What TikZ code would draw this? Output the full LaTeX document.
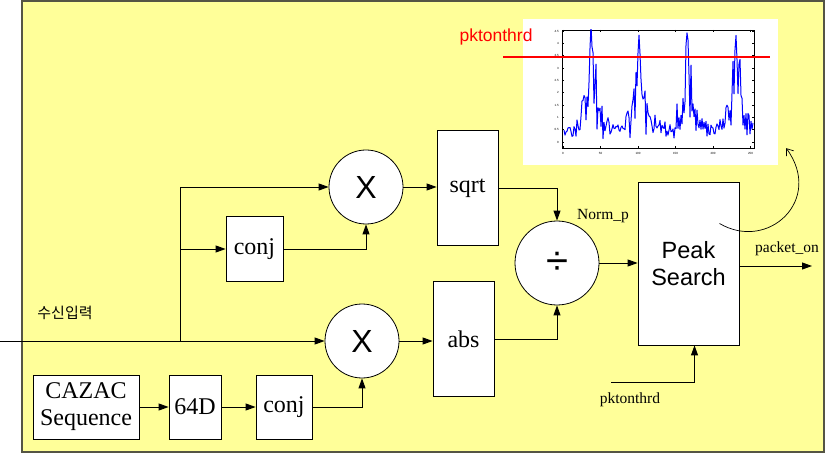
\documentclass[tikz,border=0pt]{standalone}
\usepackage{fontspec}
\setmainfont{Liberation Serif}
\newfontfamily\sansf{Liberation Sans}
\newfontfamily\krf{Noto Sans CJK KR}
\usetikzlibrary{arrows.meta,calc}
\definecolor{bgy}{HTML}{FFFF99}
\definecolor{framec}{HTML}{555544}
\begin{document}
\begin{tikzpicture}[x=1pt,y=-1pt,
  blk/.style={draw=black,fill=white,line width=0.8pt,inner sep=0pt,font=\fontsize{24}{26}\selectfont},
  mul/.style={circle,draw=black,fill=white,line width=0.8pt,inner sep=0pt,minimum size=74pt,font=\sansf\fontsize{32}{34}\selectfont},
  arr/.style={-{Triangle[length=10pt,width=7pt]},line width=0.9pt},
  lbl/.style={font=\fontsize{15.5}{17}\selectfont,inner sep=0pt},
  tick/.style={font=\sansf\fontsize{3}{3}\selectfont,inner sep=0pt},
  declare function={pk(\a,\c)=1/(1+((\a-\c)/1.5)*((\a-\c)/1.5));
                    lz(\a,\c)=1/(1+((\a-\c)/13)*((\a-\c)/13));
                    bp(\a,\c)=lz(\a,\c)*lz(\a,\c);}
]
\useasboundingbox (0,0) rectangle (827,454);
% frame
\draw[fill=bgy,draw=framec,line width=1.5pt] (22,1) rectangle (824,452);

% plot inset
\node[fill=white,minimum width=255pt,minimum height=146pt,inner sep=0pt] (plot) at (650.5,92) {};
\draw[line width=0.6pt] (562,30) rectangle (754,148);
\foreach \i/\t in {0/0,1/50,2/100,3/150,4/200,5/250}{
  \draw[line width=0.4pt] (563+37.5*\i,148) -- (563+37.5*\i,146);
  \draw[line width=0.4pt] (563+37.5*\i,30) -- (563+37.5*\i,32);
  \node[tick] at (563+37.5*\i,153) {\t};
}
\foreach \j/\t in {0/0,1/0.5,2/1,3/1.5,4/2,5/2.5,6/3,7/3.5,8/4,9/4.5}{
  \draw[line width=0.4pt] (562,142-12.33*\j) -- (564,142-12.33*\j);
  \draw[line width=0.4pt] (754,142-12.33*\j) -- (752,142-12.33*\j);
  \node[tick,anchor=east] at (559,142-12.33*\j) {\t};
}
\pgfmathsetseed{11}
\begin{scope}
\clip (562,30) rectangle (754,148);
\draw[blue,line width=1pt,line join=round] plot[domain=564:753,samples=190]
  (\x,{141-11*rnd-(108*pk(\x,591)+100*pk(\x,639)+102*pk(\x,687)+100*pk(\x,736))
   -85*rnd*(bp(\x,543)+bp(\x,591)+bp(\x,639)+bp(\x,687)+bp(\x,736)+bp(\x,784))
   *(1-min(1,pk(\x,591)+pk(\x,639)+pk(\x,687)+pk(\x,736)))});
\end{scope}
\draw[red,line width=1.1pt] (503,57) -- (770,57);
\node[text=red,font=\sansf\fontsize{17.5}{19}\selectfont,inner sep=0pt] (rthr) at (496,37) {pktonthrd};

% blocks
\node[mul] (m1) at (366,187) {X};
\node[mul] (m2) at (362,341) {X};
\node[mul,minimum size=84pt,font=\sansf\fontsize{40}{40}\selectfont] (div) at (557,263) {÷};
\node[blk,minimum width=57pt,minimum height=65pt] (conj1) at (254.5,249) {conj};
\node[blk,minimum width=61pt,minimum height=115pt] (sqrt) at (467.5,188) {sqrt};
\node[blk,minimum width=61pt,minimum height=115pt] (abs) at (463.5,339) {abs};
\node[blk,minimum width=101pt,minimum height=163pt,font=\sansf\fontsize{23.5}{27}\selectfont,align=center] (peak) at (688.5,263.5) {Peak\\Search};
\node[blk,minimum width=106pt,minimum height=64pt,align=center,font=\fontsize{24}{27}\selectfont] (cazac) at (86,407) {CAZAC\\Sequence};
\node[blk,minimum width=52pt,minimum height=64pt] (d64) at (195,407) {64D};
\node[blk,minimum width=56pt,minimum height=64pt] (conj2) at (284,407) {conj};

% connectors
\coordinate (in) at (0,341);
\coordinate (br) at (180,341);
\draw[arr] (in) -- (m2.west);
\draw[arr] (br) |- (m1.west);
\draw[arr] (br |- conj1.west) -- (conj1.west);
\draw[arr] (conj1.east) -| (m1.south);
\draw[arr] (m1.east) -- (m1.east -| sqrt.west);
\draw[arr] (m2.east) -- (m2.east -| abs.west);
\draw[arr] (cazac.east) -- (d64.west);
\draw[arr] (d64.east) -- (conj2.west);
\draw[arr] (conj2.east) -| (m2.south);
\draw[arr] (sqrt.east) -| (div.north);
\draw[arr] (abs.east) -| (div.south);
\draw[arr] (div.east) -- (div.east -| peak.west);
\coordinate (out) at (812,266);
\draw[arr] (peak.east |- out) -- (out);
\coordinate (thr) at (611,382);
\draw[arr] (thr) -| ([xshift=6pt]peak.south);
\draw[line width=0.7pt,-{Straight Barb[length=6pt,width=9pt]}] ($(peak.center)+(31,-40)$) .. controls (768,252) and (824,200) .. ($(plot.south east)+(8,-17)$);

% labels
\node[lbl] (normp) at (603,216) {Norm\_p};
\node[lbl] (pon) at (787,249) {packet\_on};
\node[lbl] (pthr) at (630,400) {pktonthrd};
\node[font=\krf\fontsize{15}{17}\selectfont,inner sep=0pt] (kin) at (65,313) {수신입력};
\end{tikzpicture}
\end{document}
